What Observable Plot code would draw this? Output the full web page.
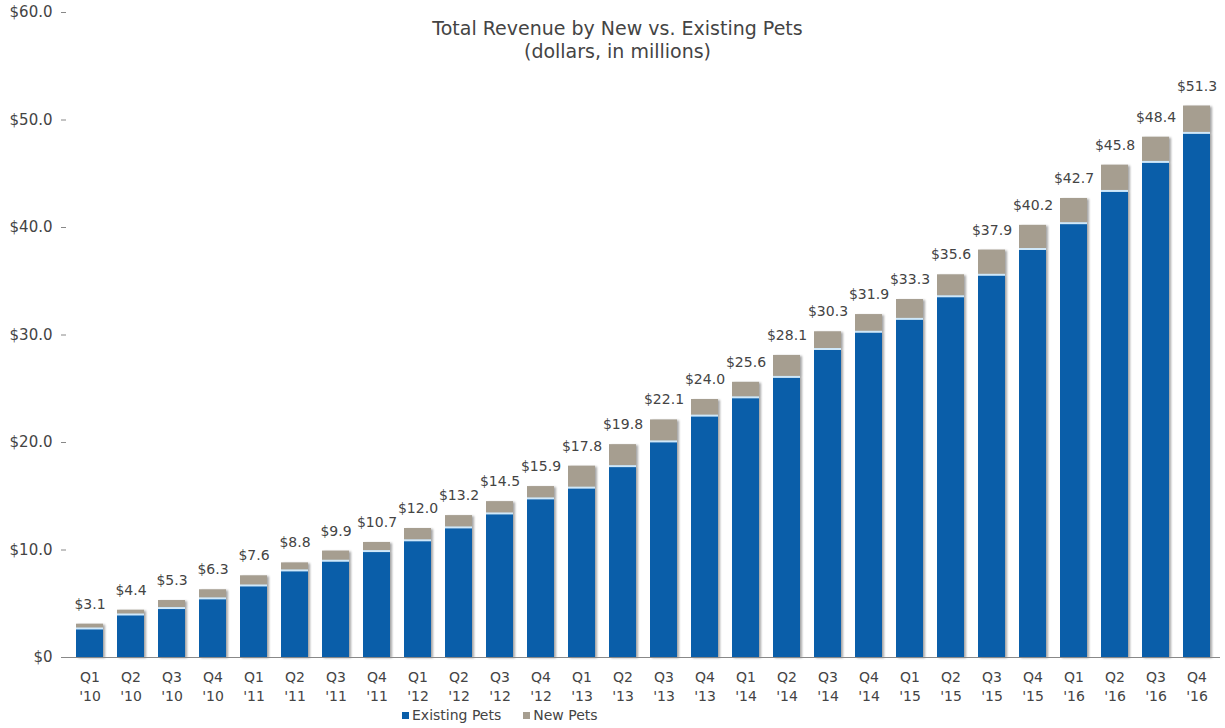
<!DOCTYPE html>
<html>
<head>
<meta charset="utf-8">
<script src="https://cdn.jsdelivr.net/npm/d3@7"></script>
<script src="https://cdn.jsdelivr.net/npm/@observablehq/plot@0.6"></script>
<style>
  body { margin: 0; background: #fff; font-family: "DejaVu Sans", sans-serif; }
  #wrap { position: relative; width: 1225px; height: 728px; }
  g[aria-label="bar"] { filter: drop-shadow(2px 1px 1.2px rgba(0,0,0,0.35)); }
  #legend { position: absolute; left: 402px; top: 707px; font-size: 14px; color: #444; white-space: nowrap; }
  #legend span.sw { display: inline-block; width: 7px; height: 7px; margin-right: 3px; vertical-align: 1px; }
</style>
</head>
<body>
<div id="wrap"></div>
<script>
const quarters = ["Q1","Q2","Q3","Q4","Q1","Q2","Q3","Q4","Q1","Q2","Q3","Q4","Q1","Q2","Q3","Q4","Q1","Q2","Q3","Q4","Q1","Q2","Q3","Q4","Q1","Q2","Q3","Q4"];
const years = ["'10","'10","'10","'10","'11","'11","'11","'11","'12","'12","'12","'12","'13","'13","'13","'13","'14","'14","'14","'14","'15","'15","'15","'15","'16","'16","'16","'16"];
const existingPets = [2.7,4.0,4.6,5.5,6.7,8.1,9.0,9.9,10.9,12.1,13.4,14.8,15.8,17.8,20.1,22.5,24.2,26.1,28.7,30.3,31.5,33.6,35.6,38.0,40.4,43.4,46.1,48.8];
const totalRevenue = [3.1,4.4,5.3,6.3,7.6,8.8,9.9,10.7,12.0,13.2,14.5,15.9,17.8,19.8,22.1,24.0,25.6,28.1,30.3,31.9,33.3,35.6,37.9,40.2,42.7,45.8,48.4,51.3];
const seriesNames = ["Existing Pets","New Pets"];
const seriesColors = ["#0a5ea9","#a69e90"];
const yTicks = [0,10,20,30,40,50,60];

const FONT = "'DejaVu Sans', sans-serif";
const labels = quarters.map((q,i) => q + "\n" + years[i]);
const rows = [];
labels.forEach((lab,i) => {
  rows.push({q: lab, series: seriesNames[0], value: existingPets[i]});
  rows.push({q: lab, series: seriesNames[1], value: +(totalRevenue[i] - existingPets[i]).toFixed(2)});
});
const totals = labels.map((lab,i) => ({q: lab, total: totalRevenue[i], existing: existingPets[i]}));

const chart = Plot.plot({
  width: 1225,
  height: 705,
  marginLeft: 66,
  marginRight: 5,
  marginTop: 12,
  marginBottom: 48,
  style: {fontFamily: FONT, fontSize: "14px", color: "#444", background: "#fff"},
  x: {domain: labels, paddingInner: 0.35, paddingOuter: 0.18, label: null},
  y: {domain: [0, 60], label: null},
  color: {domain: seriesNames, range: seriesColors},
  marks: [
    Plot.barY(rows, {x: "q", y: "value", fill: "series"}),
    Plot.tickY(totals, {x: "q", y: "existing", stroke: "#cfe8fa", strokeWidth: 2}),
    Plot.text(totals, {x: "q", y: "total", text: d => "$" + d.total.toFixed(1), dy: -20, fill: "#444", fontSize: 14}),
    Plot.axisY({ticks: yTicks, tickFormat: d => d === 0 ? "$0" : "$" + d.toFixed(1), tickSize: 5, tickPadding: 9, stroke: "#888", fill: "#444", fontSize: 15}),
    Plot.ruleX([0], {frameAnchor: "left", stroke: "#888", strokeWidth: 1.2}),
    Plot.axisX({tickSize: 0, tickPadding: 12, fill: "#444", fontSize: 14, lineHeight: 1.3}),
    Plot.ruleY([0], {stroke: "#888", strokeWidth: 1.2}),
    Plot.text(["Total Revenue by New vs. Existing Pets"], {frameAnchor: "top", lineAnchor: "middle", dx: -26, dy: 16, fontSize: 19, fill: "#444"}),
    Plot.text(["(dollars, in millions)"], {frameAnchor: "top", lineAnchor: "middle", dx: -26, dy: 39, fontSize: 19, fill: "#444"})
  ]
});
document.getElementById("wrap").appendChild(chart);

const legend = document.createElement("div");
legend.id = "legend";
legend.innerHTML = seriesNames.map((n,i) =>
  `<span class="sw" style="background:${seriesColors[i]}"></span>${n}`).join('<span style="display:inline-block;width:22px"></span>');
document.getElementById("wrap").appendChild(legend);
</script>
</body>
</html>
